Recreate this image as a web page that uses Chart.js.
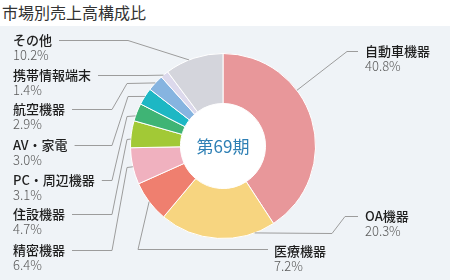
<!DOCTYPE html>
<html><head><meta charset="utf-8">
<script src="https://cdn.jsdelivr.net/npm/chart.js@4/dist/chart.umd.min.js"></script>
<style>
html,body{margin:0;padding:0;background:#fff;}
#wrap{position:relative;width:450px;height:280px;overflow:hidden;}
#panel{position:absolute;left:0;top:26px;width:450px;height:254px;background:#eff3f7;}
#title{position:absolute;left:2px;top:2px;font:16px "Noto Sans CJK JP";color:#333;line-height:20px;white-space:nowrap;}
canvas{position:absolute;left:0;top:0;}
</style></head><body>
<div id="wrap"><div id="panel"></div><div id="title">市場別売上高構成比</div><canvas id="c" width="450" height="280"></canvas></div>
<script>
const categories = ['自動車機器','OA機器','医療機器','精密機器','住設機器','PC・周辺機器','AV・家電','航空機器','携帯情報端末','その他'];
const shares = [40.8, 20.3, 7.2, 6.4, 4.7, 3.1, 3.0, 2.9, 1.4, 10.2];
const centerLabel = '第69期';
const sliceColors = ['#e8979a','#f7d580','#ef7f6f','#f0b1bf','#a2c936','#3fb475','#1db7c4','#86b4e0','#dcd9ec','#d4d5dc'];

// label layout: text x, name centre y, anchor angle on ring (deg clockwise from top), leader route from anchor
// route entries: 'A' = anchor on ring, [x,y] with null = keep previous, 'T' = just after label text
const labelLayout = [
  {tx:365, ty:51,  deg:53,    route:['A',[347,51],[358,51]]},
  {tx:365, ty:216, deg:160,   route:['A',[332,null],[345,216],[358,216]]},
  {tx:274, ty:251, deg:233,   route:['A',[138,249],[268,249]]},
  {tx:13,  ty:250, deg:257,   route:['A',[127,null],[112,250],['T',250]]},
  {tx:13,  ty:214, deg:274.3, route:['A',[127,null],[112,214],['T',214]]},
  {tx:13,  ty:180, deg:289,   route:['A',[127,null],[112,180],['T',180]]},
  {tx:13,  ty:145, deg:302.4, route:['A',[128,null],[112,145],['T',145]]},
  {tx:13,  ty:109, deg:313,   route:['A',[127,null],[112,109],['T',109]]},
  {tx:13,  ty:75,  deg:320,   route:['A',[145,75],['T',75]]},
  {tx:13,  ty:40,  deg:338.5, route:['A',[128,40],['T',40]]}
];

const NAME_FONT = '500 13px "Noto Sans CJK JP"';
const PCT_FONT = '300 13px "Noto Sans CJK JP"';

const labelsPlugin = {
  id:'labels',
  beforeDatasetsDraw(chart){
    const arc = chart.getDatasetMeta(0).data[0];
    const ctx = chart.ctx;
    ctx.save();
    ctx.fillStyle = '#ffffff';
    ctx.beginPath();
    ctx.arc(arc.x, arc.y, arc.innerRadius + 0.5, 0, Math.PI*2);
    ctx.fill();
    ctx.restore();
  },
  afterDraw(chart){
    const ctx = chart.ctx;
    const arc = chart.getDatasetMeta(0).data[0];
    const cx = arc.x, cy = arc.y, R = arc.outerRadius;
    ctx.save();
    ctx.fillStyle = '#2f80b5';
    ctx.font = '17px "Noto Sans CJK JP"';
    ctx.textAlign = 'center';
    ctx.textBaseline = 'middle';
    ctx.fillText(centerLabel, cx, cy + 1);

    ctx.textAlign = 'left';
    categories.forEach((name, i) => {
      const L = labelLayout[i];
      ctx.font = NAME_FONT;
      const w = ctx.measureText(name).width;
      const textEnd = L.tx + w + 7;
      const t = L.deg * Math.PI / 180;
      const anchor = [cx + R * Math.sin(t), cy - R * Math.cos(t)];
      let prev = null;
      const pts = L.route.map(p => {
        let pt;
        if (p === 'A') pt = anchor;
        else {
          const x = p[0] === 'T' ? textEnd : (p[0] == null ? prev[0] : p[0]);
          const y = p[1] == null ? prev[1] : p[1];
          pt = [x, y];
        }
        prev = pt;
        return pt;
      });
      ctx.strokeStyle = '#9c9c9c';
      ctx.lineWidth = 1;
      ctx.beginPath();
      pts.forEach((p, k) => {
        const x = p[0], y = Math.round(p[1]) + 0.5;
        if (k === 0) ctx.moveTo(x, p[1]); else ctx.lineTo(x, y);
      });
      ctx.stroke();
      ctx.fillStyle = '#1e1e1e';
      ctx.font = NAME_FONT;
      ctx.fillText(name, L.tx, L.ty);
      ctx.fillStyle = '#5a5a5a';
      ctx.font = PCT_FONT;
      ctx.fillText(shares[i].toFixed(1) + '%', L.tx, L.ty + 15);
    });
    ctx.restore();
  }
};

new Chart(document.getElementById('c'), {
  type:'doughnut',
  data:{
    labels:categories,
    datasets:[{data:shares, backgroundColor:sliceColors, borderColor:'#ffffff', borderWidth:1}]
  },
  options:{
    responsive:false,
    animation:false,
    cutout:'46%',
    layout:{padding:{left:130, right:134, top:53, bottom:41}},
    plugins:{legend:{display:false}, tooltip:{enabled:false}}
  },
  plugins:[labelsPlugin]
});
</script>
</body></html>
